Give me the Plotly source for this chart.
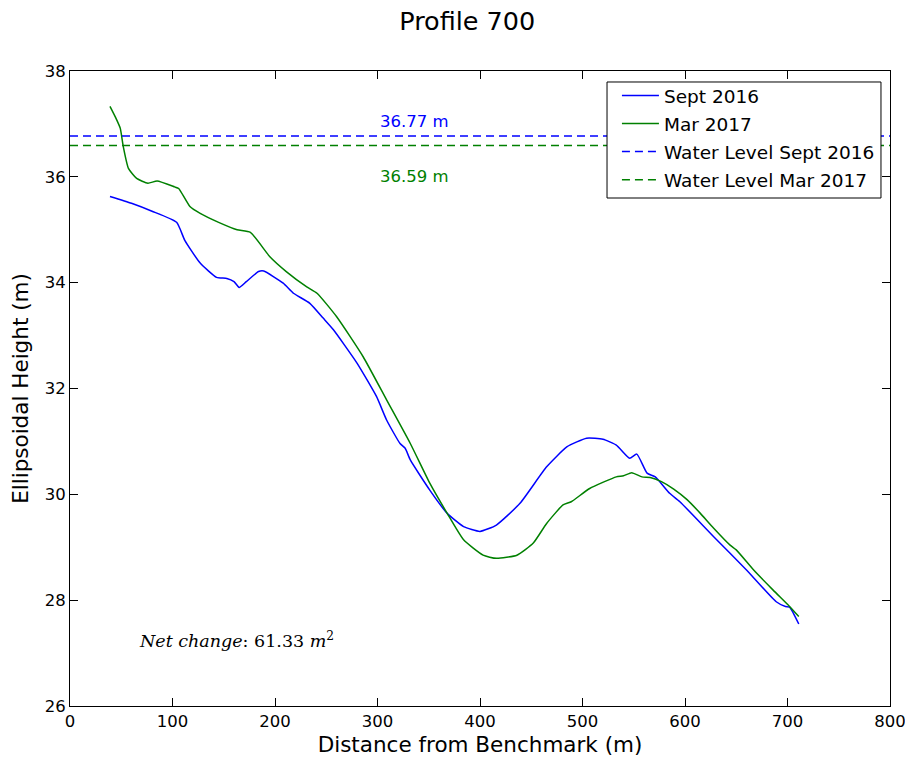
import plotly.graph_objects as go

sept_x = [39, 60, 80, 104, 112, 127, 143, 153, 160, 165, 172, 184, 189, 208, 218, 234, 247, 257, 280, 299, 309, 322, 327, 332, 351, 368, 384, 400, 416, 439, 465, 485, 504, 520, 533, 546, 553, 563, 571, 585, 595, 628, 660, 689, 698, 702, 711]
sept_y = [35.63, 35.50, 35.35, 35.14, 34.80, 34.37, 34.10, 34.08, 34.02, 33.91, 34.02, 34.21, 34.22, 33.99, 33.80, 33.61, 33.33, 33.11, 32.48, 31.85, 31.40, 30.96, 30.87, 30.65, 30.08, 29.64, 29.39, 29.30, 29.42, 29.83, 30.52, 30.90, 31.06, 31.04, 30.93, 30.68, 30.76, 30.40, 30.33, 30.02, 29.86, 29.20, 28.57, 27.97, 27.88, 27.87, 27.55]

mar_x = [39, 45, 49, 52, 57, 65, 76, 85, 102, 106, 117, 127, 145, 163, 176, 195, 211, 231, 241, 260, 286, 309, 332, 351, 368, 384, 403, 416, 436, 452, 465, 481, 489, 507, 533, 540, 548, 558, 566, 577, 589, 602, 615, 628, 644, 650, 667, 686, 702, 711]
mar_y = [37.33, 37.10, 36.92, 36.57, 36.16, 35.97, 35.88, 35.92, 35.81, 35.78, 35.44, 35.31, 35.14, 35.00, 34.95, 34.49, 34.21, 33.92, 33.80, 33.36, 32.60, 31.78, 30.96, 30.21, 29.64, 29.14, 28.85, 28.79, 28.85, 29.08, 29.45, 29.80, 29.86, 30.11, 30.33, 30.35, 30.41, 30.33, 30.32, 30.24, 30.10, 29.90, 29.64, 29.36, 29.04, 28.95, 28.57, 28.19, 27.88, 27.69]

water_sept = 36.77
water_mar = 36.59
net_change = 61.33
x_range = [0, 800]
y_range = [26, 38]
x_ticks = [0, 100, 200, 300, 400, 500, 600, 700, 800]
y_ticks = [26, 28, 30, 32, 34, 36, 38]

BLUE = "#0000ff"
GREEN = "#008000"
FONT = "DejaVu Sans"

fig = go.Figure()
fig.add_trace(go.Scatter(x=sept_x, y=sept_y, mode="lines", name="Sept 2016",
                         line=dict(color=BLUE, width=1.5, shape="spline", smoothing=0.5),
                         legendgroup="a"))
fig.add_trace(go.Scatter(x=mar_x, y=mar_y, mode="lines", name="Mar 2017",
                         line=dict(color=GREEN, width=1.5, shape="spline", smoothing=0.5),
                         legendgroup="b"))
fig.add_trace(go.Scatter(x=x_range, y=[water_sept, water_sept], mode="lines",
                         name="Water Level Sept 2016",
                         line=dict(color=BLUE, width=1.5, dash="8px,5px"), legendgroup="c"))
fig.add_trace(go.Scatter(x=x_range, y=[water_mar, water_mar], mode="lines",
                         name="Water Level Mar 2017",
                         line=dict(color=GREEN, width=1.5, dash="8px,5px"), legendgroup="d"))

fig.add_annotation(x=300, y=water_sept + 0.28, text=f"{water_sept:.2f} m", showarrow=False,
                   xanchor="left", yanchor="middle", font=dict(family=FONT, size=16.5, color=BLUE))
fig.add_annotation(x=300, y=water_mar - 0.59, text=f"{water_mar:.2f} m", showarrow=False,
                   xanchor="left", yanchor="middle", font=dict(family=FONT, size=16.5, color=GREEN))
fig.add_annotation(x=65, y=27.25,
                   text=f"<i>Net change</i>: {net_change:.2f} <i>m</i><sup>2</sup>",
                   showarrow=False, xanchor="left", yanchor="middle",
                   font=dict(family="DejaVu Serif", size=17.5, color="black"))

# legend frame
fig.add_shape(type="rect", xref="paper", yref="paper", x0=0.6549, x1=0.989, y0=0.80, y1=0.9827,
              line=dict(color="black", width=1), fillcolor="white", layer="above")

axis_common = dict(showline=True, linecolor="black", linewidth=1, mirror="ticks",
                   ticks="inside", ticklen=8, tickcolor="black", tickwidth=1,
                   showgrid=False, zeroline=False, automargin=False,
                   ticklabeloverflow="allow",
                   tickfont=dict(family=FONT, size=16.5, color="black"))

fig.update_xaxes(range=x_range, tickvals=x_ticks,
                 title=dict(text="Distance from Benchmark (m)", font=dict(family=FONT, size=21.5, color="black"), standoff=11),
                 **axis_common)
fig.update_yaxes(range=y_range, tickvals=y_ticks,
                 title=dict(text="Ellipsoidal Height (m)", font=dict(family=FONT, size=21.5, color="black"), standoff=12),
                 **axis_common)

fig.update_layout(
    width=897, height=749,
    margin=dict(l=62, r=15, t=63, b=51),
    plot_bgcolor="white", paper_bgcolor="white",
    title=dict(text="Profile 700", x=0.512, xanchor="center", y=0.982, yanchor="middle",
               font=dict(family=FONT, size=25.5, color="black")),
    font=dict(family=FONT, color="black"),
    legend=dict(x=0.667, y=0.9906, xanchor="left", yanchor="top",
                borderwidth=0, bgcolor="rgba(0,0,0,0)",
                font=dict(family=FONT, size=18.5, color="black"),
                traceorder="grouped", tracegroupgap=1, itemwidth=37),
)

fig.write_html("out.html")
